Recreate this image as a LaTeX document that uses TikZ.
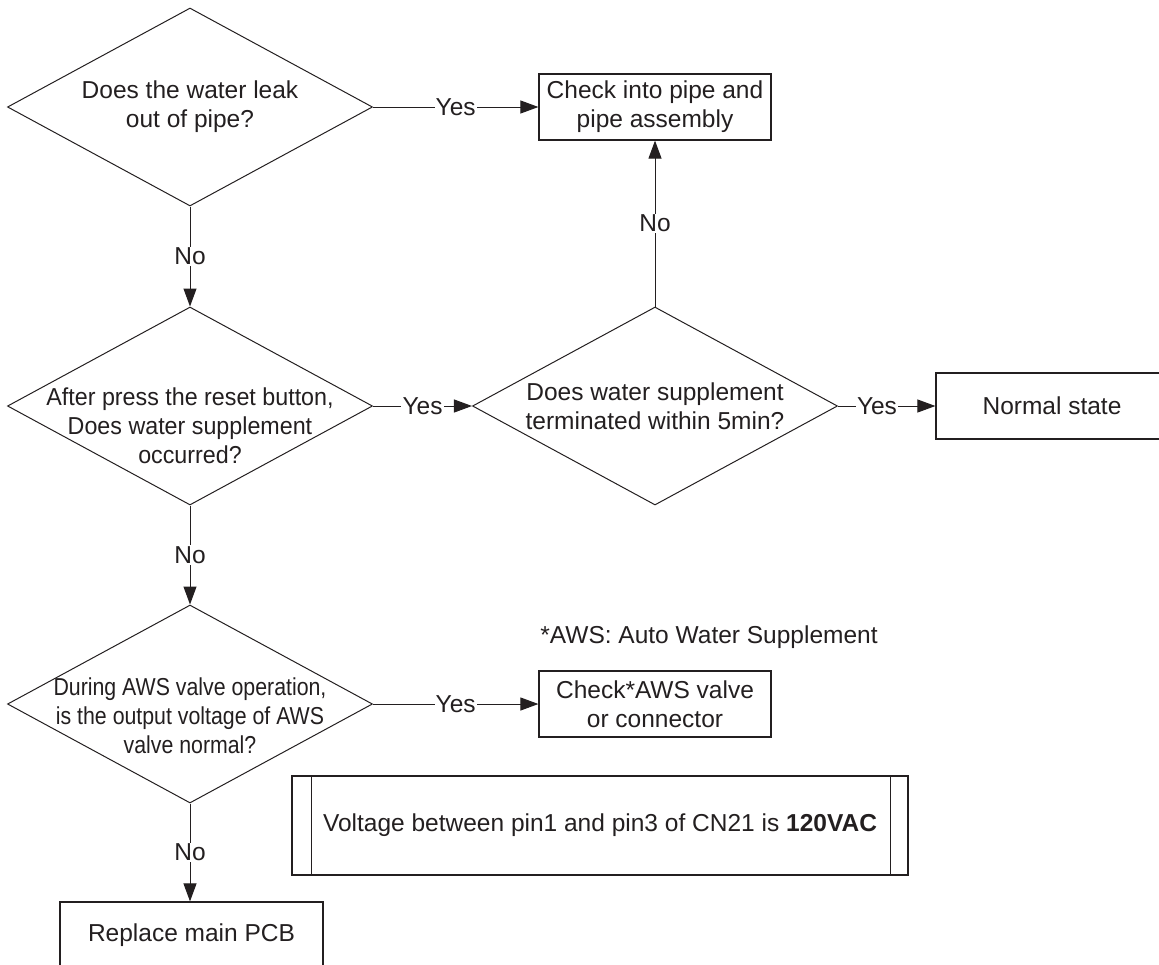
\documentclass[tikz,border=0pt]{standalone}
\usepackage{fontspec}
\setmainfont{Liberation Sans}
\newfontfamily\resetfont[FakeStretch=0.95]{Liberation Sans}
\newfontfamily\valvefont[FakeStretch=0.87]{Liberation Sans}
\usetikzlibrary{shapes.geometric,arrows.meta,positioning}
\definecolor{FlowInk}{RGB}{35,31,32}

\begin{document}
\begin{tikzpicture}[x=0.5pt, y=-0.5pt,
  every node/.style={font=\fontsize{12.25}{14.5}\selectfont, text=FlowInk},
  decision/.style={draw=FlowInk, diamond, inner sep=0pt, line width=0.5pt, minimum width=182.5pt, minimum height=99pt},
  process/.style={draw=FlowInk, rectangle, inner sep=0pt, line width=0.6pt, minimum width=116pt, minimum height=33pt, align=center},
  flow/.style={draw=FlowInk, line width=0.5pt, -{Triangle[length=9pt,width=6.5pt]}},
  yn/.style={fill=white, inner sep=0.6pt}]
\useasboundingbox (0,0) rectangle (1159,964);

% decisions
\node[decision] (d1) at (190,107) {};
\node[align=center] (d1txt) at (d1) {Does the water leak\\out of pipe?};
\node[decision] (d2) at (190,406) {};
\node[align=center, font=\resetfont\fontsize{12.25}{14.5}\selectfont] (d2txt) at ([yshift=-10pt]d2.center) {After press the reset button,\\Does water supplement\\occurred?};
\node[decision] (d3) at (655,406) {};
\node[align=center] (d3txt) at (d3) {Does water supplement\\terminated within 5min?};
\node[decision] (d4) at (190,704) {};
\node[align=center, font=\valvefont\fontsize{12.25}{14.5}\selectfont] (d4txt) at ([yshift=-6pt]d4.center) {During AWS valve operation,\\is the output voltage of AWS\\valve normal?};

% actions
\node[process] (b1) at (655,107) {Check into pipe and\\pipe assembly};
\node[process] (b2) at (1052,406) {Normal state};
\node[process] (b3) at (655,704) {Check*AWS valve\\or connector};
\node[process, minimum width=131.5pt] (b4) at (191.5,935) {Replace main PCB};

\node[anchor=west, inner sep=0pt] (note) at (540,637) {*AWS: Auto Water Supplement};

\node[process, minimum width=308pt, minimum height=49.5pt] (b5) at (600,825.5) {Voltage between pin1 and pin3 of CN21 is \textbf{120VAC}};
\draw[draw=FlowInk, line width=0.6pt] ([xshift=10pt]b5.north west) -- ([xshift=10pt]b5.south west);
\draw[draw=FlowInk, line width=0.6pt] ([xshift=-9pt]b5.north east) -- ([xshift=-9pt]b5.south east);

% connectors
\draw[flow] (d1) -- node[yn] {Yes} (b1);
\draw[flow] (d1) -- node[yn] {No} (d2);
\draw[flow] (d2) -- node[yn] {Yes} (d3);
\draw[flow] (d3) -- node[yn] {No} (b1);
\draw[flow] (d3) -- node[yn, pos=0.4] {Yes} (b2);
\draw[flow] (d2) -- node[yn] {No} (d4);
\draw[flow] (d4) -- node[yn] {Yes} (b3);
\draw[flow] (d4) -- node[yn] {No} (d4 |- b4.north);
\end{tikzpicture}
\end{document}
